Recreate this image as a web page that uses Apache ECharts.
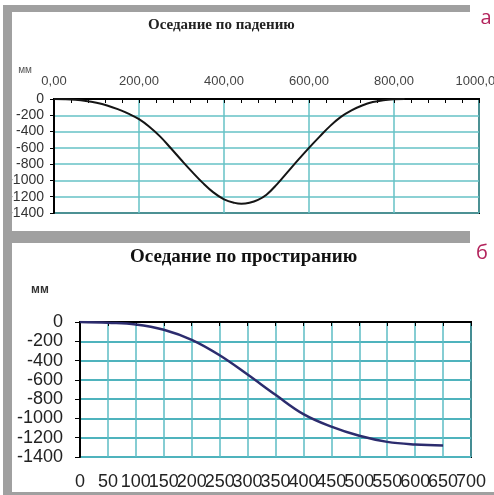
<!DOCTYPE html>
<html>
<head>
<meta charset="utf-8">
<script src="https://cdn.jsdelivr.net/npm/echarts@6/dist/echarts.min.js"></script>
<style>
html,body{margin:0;padding:0;background:#fff;}
#c{width:494px;height:495px;}
</style>
</head>
<body>
<div id="c"></div>
<script>
// ---- Chart a: Оседание по падению ----
const titleTop = 'Оседание по падению';
const unitTop = 'мм';
const topX = [0, 25, 50, 75, 100, 125, 150, 175, 200, 225, 250, 275, 300, 325, 350, 375, 400, 425, 441, 460, 480, 500, 525, 550, 575, 600, 625, 650, 675, 700, 725, 750, 775, 800, 825];
const topY = [0, -3, -10, -24, -47, -80, -125, -180, -248, -343, -462, -605, -752, -895, -1030, -1147, -1232, -1276, -1286, -1274, -1238, -1175, -1045, -895, -745, -600, -462, -330, -220, -140, -80, -38, -14, -3, 0];

// ---- Chart б: Оседание по простиранию ----
const titleBottom = 'Оседание по простиранию';
const unitBottom = 'мм';
const botX = [0, 50, 100, 150, 200, 250, 300, 350, 400, 450, 500, 550, 600, 650];
const botY = [0, -8, -25, -80, -185, -345, -545, -755, -955, -1085, -1180, -1243, -1270, -1280];

const panelLabels = ['а', 'б'];

const GRAY = '#a0a0a0';
const TEAL = '#66c2c6';
const SANS = '"Liberation Sans", Arial, sans-serif';
const SERIF = '"Liberation Serif", "Times New Roman", serif';

const chart = echarts.init(document.getElementById('c'), null, {renderer: 'canvas'});

const topData = topX.map((x, i) => [x, topY[i]]);
const botData = botX.map((x, i) => [x, botY[i]]);

// bottom x labels are drawn by two overlapping axes (every other tick each) so none gets auto-hidden
const botLabelStyle = {fontFamily: SANS, fontSize: 18, color: '#222', margin: 16, hideOverlap: false,
                       showMinLabel: true, showMaxLabel: true};

chart.setOption({
  backgroundColor: '#fff',
  animation: false,
  title: [
    {text: titleTop, left: 148, top: 18, padding: 0,
     textStyle: {fontFamily: SERIF, fontWeight: 'bold', fontSize: 15, color: '#222'}},
    {text: titleBottom, left: 130, top: 248, padding: 0,
     textStyle: {fontFamily: SERIF, fontWeight: 'bold', fontSize: 19, color: '#111'}}
  ],
  grid: [
    {left: 54, top: 99, width: 425, height: 114, show: true, borderColor: '#000', borderWidth: 2,
     backgroundColor: '#fff', containLabel: false, outerBoundsMode: 'none'},
    {left: 80, top: 322, width: 391, height: 135, show: true, borderColor: '#000', borderWidth: 2,
     backgroundColor: '#fff', containLabel: false, outerBoundsMode: 'none'}
  ],
  xAxis: [
    {gridIndex: 0, type: 'value', position: 'top', min: 0, max: 1000, interval: 200,
     axisLine: {show: true, lineStyle: {color: '#000', width: 2}},
     axisTick: {show: true, inside: true, length: 4, lineStyle: {color: '#000'}},
     minorTick: {show: true, splitNumber: 5, length: 4, lineStyle: {color: '#000', width: 1}},
     splitLine: {show: true, lineStyle: {color: TEAL, width: 1.5}},
     axisLabel: {fontFamily: SANS, fontSize: 13, color: '#444', margin: 11,
                 showMinLabel: true, showMaxLabel: true, hideOverlap: false,
                 formatter: v => v.toFixed(2).replace('.', ',')}},
    {gridIndex: 1, type: 'value', position: 'bottom', min: 0, max: 700, interval: 50,
     axisLine: {show: true, lineStyle: {color: '#000', width: 2}},
     axisTick: {show: false},
     splitLine: {show: true, lineStyle: {color: '#5cbcc4', width: 1.5}},
     axisLabel: Object.assign({}, botLabelStyle, {formatter: v => (v % 100 === 0 ? String(v) : '')})},
    {gridIndex: 1, type: 'value', position: 'top', min: 0, max: 700, interval: 50,
     axisLine: {show: true, lineStyle: {color: '#000', width: 2}},
     axisTick: {show: true, inside: true, length: 4, lineStyle: {color: '#000'}},
     splitLine: {show: false},
     axisLabel: {show: false}},
    {gridIndex: 1, type: 'value', position: 'bottom', offset: 0, min: 0, max: 700, interval: 50,
     axisLine: {show: false},
     axisTick: {show: false},
     splitLine: {show: false},
     axisLabel: Object.assign({}, botLabelStyle, {formatter: v => (v % 100 === 50 ? String(v) : '')})}
  ],
  yAxis: [
    {gridIndex: 0, type: 'value', min: -1400, max: 0, interval: 200,
     axisLine: {show: true, lineStyle: {color: '#000', width: 2}},
     axisTick: {show: true, length: 4, lineStyle: {color: '#000'}},
     splitLine: {show: true, lineStyle: {color: TEAL, width: 1.5}},
     axisLabel: {fontFamily: SANS, fontSize: 14, color: '#333', margin: 10,
                 showMinLabel: true, showMaxLabel: true, hideOverlap: false,
                 formatter: v => String(v)}},
    {gridIndex: 1, type: 'value', min: -1400, max: 0, interval: 200,
     axisLine: {show: true, lineStyle: {color: '#000', width: 2}},
     axisTick: {show: true, length: 5, lineStyle: {color: '#000'}},
     splitLine: {show: true, lineStyle: {color: '#4fb3bd', width: 2}},
     axisLabel: {fontFamily: SANS, fontSize: 18, color: '#222', margin: 17,
                 showMinLabel: true, showMaxLabel: true, hideOverlap: false,
                 formatter: v => String(v)}}
  ],
  series: [
    {type: 'line', xAxisIndex: 0, yAxisIndex: 0, data: topData, smooth: 0.4, showSymbol: false,
     lineStyle: {color: '#151515', width: 2}, z: 5},
    {type: 'line', xAxisIndex: 1, yAxisIndex: 1, data: botData, smooth: 0.4, showSymbol: false,
     lineStyle: {color: '#2c2c6e', width: 2.5}, z: 5}
  ],
  graphic: [
    {type: 'rect', z: 100, shape: {x: 3, y: 5, width: 467, height: 7}, style: {fill: GRAY}},
    {type: 'rect', z: 100, shape: {x: 3, y: 5, width: 9, height: 490}, style: {fill: GRAY}},
    {type: 'rect', z: 100, shape: {x: 3, y: 231, width: 467, height: 12}, style: {fill: GRAY}},
    {type: 'rect', z: 100, shape: {x: 3, y: 492, width: 491, height: 3}, style: {fill: GRAY}},
    {type: 'text', z: 100, x: 25, y: 70,
     style: {text: unitTop, font: '10px ' + SANS, fill: '#555', textAlign: 'center', textVerticalAlign: 'middle', verticalAlign: 'middle'}},
    {type: 'text', z: 100, x: 40, y: 290,
     style: {text: unitBottom, font: 'bold 12px ' + SANS, fill: '#333', textAlign: 'center', textVerticalAlign: 'middle', verticalAlign: 'middle'}},
    {type: 'text', z: 100, x: 486, y: 18,
     style: {text: panelLabels[0], font: '20px "Open Sans", sans-serif', fill: '#b3245c', textAlign: 'center', textVerticalAlign: 'middle', verticalAlign: 'middle'}},
    {type: 'text', z: 100, x: 482, y: 253,
     style: {text: panelLabels[1], font: '20px "Open Sans", sans-serif', fill: '#b3245c', textAlign: 'center', textVerticalAlign: 'middle', verticalAlign: 'middle'}}
  ]
});
</script>
</body>
</html>
